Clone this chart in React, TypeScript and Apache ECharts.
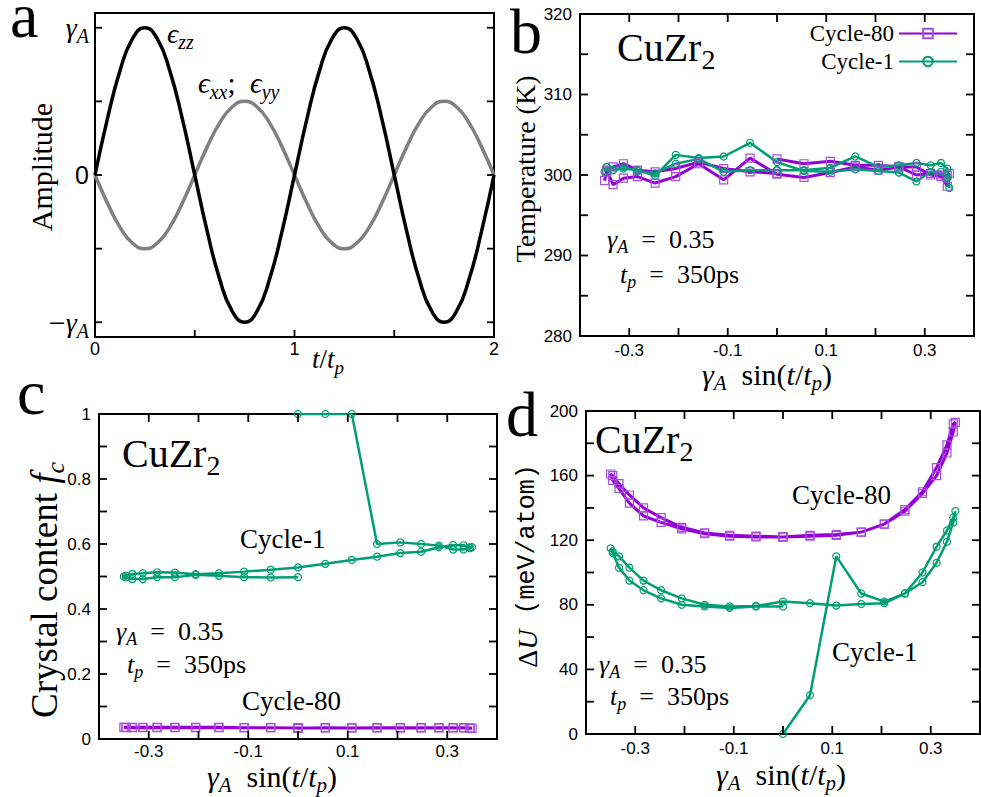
import React, { useEffect, useRef } from 'react';
import * as echarts from 'echarts';

// ---------- Panel a: strain waveforms (schematic) ----------
const tPhase = [0, 0.0625, 0.125, 0.1875, 0.25, 0.3125, 0.375, 0.4375, 0.5, 0.5625, 0.625, 0.6875, 0.75, 0.8125, 0.875, 0.9375, 1, 1.0625, 1.125, 1.1875, 1.25, 1.3125, 1.375, 1.4375, 1.5, 1.5625, 1.625, 1.6875, 1.75, 1.8125, 1.875, 1.9375, 2];
const epsZZ = [0, 0.383, 0.707, 0.924, 1, 0.924, 0.707, 0.383, 0, -0.383, -0.707, -0.924, -1, -0.924, -0.707, -0.383, 0, 0.383, 0.707, 0.924, 1, 0.924, 0.707, 0.383, 0, -0.383, -0.707, -0.924, -1, -0.924, -0.707, -0.383, 0];
const epsXX = [0, -0.191, -0.354, -0.462, -0.5, -0.462, -0.354, -0.191, 0, 0.191, 0.354, 0.462, 0.5, 0.462, 0.354, 0.191, 0, -0.191, -0.354, -0.462, -0.5, -0.462, -0.354, -0.191, 0, 0.191, 0.354, 0.462, 0.5, 0.462, 0.354, 0.191, 0];

// ---------- Shared strain sequence (x) for panels b, c, d ----------
const strain = [0, 0.0548, 0.1082, 0.1589, 0.2057, 0.2475, 0.2832, 0.3119, 0.3329, 0.3457, 0.35, 0.3457, 0.3329, 0.3119, 0.2832, 0.2475, 0.2057, 0.1589, 0.1082, 0.0548, 0, -0.0548, -0.1082, -0.1589, -0.2057, -0.2475, -0.2832, -0.3119, -0.3329, -0.3457, -0.35, -0.3457, -0.3329, -0.3119, -0.2832, -0.2475, -0.2057, -0.1589, -0.1082, -0.0548, 0];

// Panel b: temperature (K)
const temp80 = [302.0, 301.4, 301.7, 301.2, 301.2, 301.0, 301.0, 300.0, 299.8, 300.0, 300.2, 298.6, 300.0, 300.2, 300.0, 301.0, 300.6, 301.0, 300.3, 299.7, 300.1, 302.1, 299.4, 301.4, 299.8, 299.0, 299.8, 299.6, 298.8, 300.6, 299.3, 300.4, 301.0, 301.4, 300.6, 300.4, 300.8, 301.6, 300.8, 300.4, 300.2];
const temp1 = [300.6, 300.6, 300.9, 302.3, 301.0, 301.2, 301.5, 301.2, 301.5, 300.8, 298.4, 299.6, 300.4, 300.4, 299.2, 300.3, 300.5, 300.7, 300.4, 300.5, 301.6, 304.0, 302.3, 302.1, 302.5, 299.9, 300.6, 300.8, 300.6, 301.0, 300.4, 301.0, 300.6, 301.0, 300.5, 300.2, 301.4, 302.0, 300.4, 300.6, 300.6];

// Panel c: crystal content fc
const fc1 = [1.0, 1.0, 1.0, 0.600, 0.605, 0.600, 0.595, 0.583, 0.583, 0.587, 0.590, 0.590, 0.596, 0.597, 0.590, 0.576, 0.572, 0.561, 0.551, 0.539, 0.528, 0.521, 0.515, 0.510, 0.507, 0.512, 0.513, 0.510, 0.508, 0.503, 0.500, 0.497, 0.492, 0.492, 0.498, 0.498, 0.505, 0.502, 0.498, 0.497, 0.498];
const fc80 = [0.033, 0.035, 0.034, 0.034, 0.034, 0.034, 0.034, 0.034, 0.034, 0.033, 0.033, 0.034, 0.035, 0.035, 0.035, 0.035, 0.035, 0.035, 0.034, 0.034, 0.034, 0.035, 0.035, 0.036, 0.036, 0.036, 0.036, 0.036, 0.036, 0.036, 0.036, 0.035, 0.035, 0.035, 0.035, 0.035, 0.035, 0.035, 0.035, 0.035, 0.034];

// Panel d: ΔU (meV/atom)
const dU1 = [0, 24, 110, 87, 82, 87, 100, 116, 126, 134, 138, 131, 119, 106, 94, 87, 81, 80.5, 79.5, 81, 82, 79.3, 79, 80, 84, 89, 95, 103, 110, 113, 115, 112, 103, 95, 89, 84, 80, 79, 78, 79, 79];
const dU80 = [122, 123, 123.5, 125, 130, 138, 149, 160, 174, 187, 193, 192, 179, 165, 150, 139, 130, 125, 123, 122.5, 122, 122, 122.5, 124, 127, 131, 135, 143, 152, 157, 161, 160, 155, 148, 140, 134, 128, 124.5, 123, 122.5, 122];

// ---------- Axis ranges, tick positions / labels ----------
const aXRange = [0, 2];
const aYRange = [-1.1, 1.1];
const strainRange = [-0.4, 0.4];
const tempRange = [280, 320];
const fcRange = [0, 1];
const dURange = [0, 200];
const aXTicks = [0, 0.5, 1, 1.5, 2];
const aXLabels = [0, 1, 2];
const aYTicks = [-1, -0.5, 0, 0.5, 1];
const aYLabels = [-1, 0, 1];
const strainTicks = [-0.4, -0.3, -0.2, -0.1, 0, 0.1, 0.2, 0.3, 0.4];
const strainLabels = [-0.3, -0.1, 0.1, 0.3];
const tempTicks = [280, 285, 290, 295, 300, 305, 310, 315, 320];
const tempLabels = [280, 290, 300, 310, 320];
const fcTicks = [0, 0.1, 0.2, 0.3, 0.4, 0.5, 0.6, 0.7, 0.8, 0.9, 1];
const fcLabels = [0, 0.2, 0.4, 0.6, 0.8, 1];
const dUTicks = [0, 20, 40, 60, 80, 100, 120, 140, 160, 180, 200];
const dULabels = [0, 40, 80, 120, 160, 200];

const SERIF = '"Liberation Serif", serif';
const SANS = '"Liberation Sans", Arial, sans-serif';
const MONO = '"Liberation Mono", monospace';
const PURPLE = '#9400d3';
const GREEN = '#009e73';

function mr(F: number) {
  const lh = Math.round(F * 1.05);
  const sF = Math.round(F * 0.7);
  const p = Math.round(F * 0.6);
  const sLH = lh - p;
  return {
    r: { fontFamily: SERIF, fontSize: F, lineHeight: lh, fill: '#000' },
    i: { fontFamily: SERIF, fontSize: F, fontStyle: 'italic', lineHeight: lh, fill: '#000' },
    s: { fontFamily: SERIF, fontSize: sF, fontStyle: 'italic', lineHeight: sLH, padding: [p, 0, 0, 0], fill: '#000' },
    u: { fontFamily: SERIF, fontSize: sF, lineHeight: sLH, padding: [p, 0, 0, 0], fill: '#000' },
    m: { fontFamily: MONO, fontSize: Math.round(F * 0.9), lineHeight: lh, fill: '#000' },
  };
}

function txt(text: string, F: number, x: number, y: number, opts: any = {}) {
  return {
    type: 'text',
    x,
    y,
    rotation: opts.rotation || 0,
    style: {
      text,
      rich: mr(F),
      fontFamily: SERIF,
      fontSize: F,
      fill: '#000',
      align: opts.align || 'left',
      verticalAlign: 'middle',
    },
  };
}

function letter(t: string, x: number, y: number) {
  return {
    type: 'text', x, y,
    style: { text: t, fontFamily: SERIF, fontSize: 64, lineHeight: 30, fill: '#000', align: 'left', verticalAlign: 'middle' },
  };
}

function axisCfg(gridIndex: number, position: string, range: number[], labels: number[], fmt: any, fontSize: number, margin: number, rich?: any) {
  return {
    type: 'value', gridIndex, min: range[0], max: range[1], position,
    axisLine: { show: false, onZero: false },
    splitLine: { show: false },
    axisTick: { show: false },
    axisLabel: { show: true, customValues: labels, formatter: fmt, fontFamily: SANS, fontSize, color: '#000', margin, rich },
  };
}

const fmt1 = (v: number) => v.toFixed(1);
const fmtNum = (v: number) => String(Number(v.toFixed(1)));
const fmtInt = (v: number) => String(Math.round(v));

function pair(xs: number[], ys: number[]) {
  return xs.map((x, i) => [x, ys[i]]);
}

function purpleSeries(name: string, xi: number, yi: number, ys: number[]) {
  return {
    name, type: 'line', xAxisIndex: xi, yAxisIndex: yi,
    data: pair(strain, ys),
    symbol: 'rect', symbolSize: 8, showSymbol: true,
    lineStyle: { color: PURPLE, width: 3 },
    itemStyle: { color: 'rgba(0,0,0,0)', borderColor: '#a64ce0', borderWidth: 1.2 },
    emphasis: { disabled: true },
  };
}
function greenSeries(name: string, xi: number, yi: number, ys: number[]) {
  return {
    name, type: 'line', xAxisIndex: xi, yAxisIndex: yi,
    data: pair(strain, ys),
    symbol: 'circle', symbolSize: 7, showSymbol: true,
    lineStyle: { color: GREEN, width: 2.5 },
    itemStyle: { color: 'rgba(0,0,0,0)', borderColor: GREEN, borderWidth: 1.2 },
    emphasis: { disabled: true },
  };
}

// Tick frame specs: which axes, which sides get inward ticks
const tickSpecs = [
  { xi: 0, yi: 0, xr: aXRange, yr: aYRange, xt: aXTicks, yt: aYTicks, top: false, len: 7 },
  { xi: 1, yi: 1, xr: strainRange, yr: tempRange, xt: strainTicks, yt: tempTicks, top: true, len: 8 },
  { xi: 2, yi: 2, xr: strainRange, yr: fcRange, xt: strainTicks, yt: fcTicks, top: true, len: 8 },
  { xi: 3, yi: 3, xr: strainRange, yr: dURange, xt: strainTicks, yt: dUTicks, top: true, len: 8 },
];

const XTITLE = '{i|γ}{s|A}{r|  sin(}{i|t}{r|/}{i|t}{s|p}{r|)}';

export default function App() {
  const ref = useRef<HTMLDivElement>(null);
  useEffect(() => {
    if (!ref.current) return;
    const chart = echarts.init(ref.current, undefined, { renderer: 'svg' });
    const gridBase = { show: true, borderColor: '#000', borderWidth: 2, backgroundColor: 'transparent', containLabel: false };
    const aRich = {
      i: { fontFamily: SERIF, fontSize: 28, fontStyle: 'italic', lineHeight: 29, color: '#000' },
      s: { fontFamily: SERIF, fontSize: 20, fontStyle: 'italic', lineHeight: 12, padding: [17, 0, 0, 0], color: '#000' },
      n: { fontFamily: SANS, fontSize: 25, lineHeight: 29, color: '#000' },
      mi: { fontFamily: SERIF, fontSize: 30, lineHeight: 29, color: '#000' },
    };
    const aYFmt = (v: number) => (v > 0.5 ? '{i|γ}{s|A}' : v < -0.5 ? '{mi|−}{i|γ}{s|A}' : '{n|0}');

    const texts: any[] = [
      letter('a', 10, 15),
      letter('b', 510, 31),
      letter('c', 17, 392),
      letter('d', 506, 414),
      txt('{i|ϵ}{s|zz}', 28, 167, 33),
      txt('{i|ϵ}{s|xx}{r|;  }{i|ϵ}{s|yy}', 29, 198, 83),
      txt('{i|t}{r|/}{i|t}{s|p}', 27, 312, 359),
      txt('{r|Amplitude}', 30, 41, 167, { rotation: Math.PI / 2, align: 'center' }),
      txt('{r|CuZr}{u|2}', 40, 617, 47),
      txt('{i|γ}{s|A}{r|  =  0.35}', 26, 607, 239),
      txt('{i|t}{s|p}{r|  =  350ps}', 26, 620, 274),
      txt('{r|Temperature (K)}', 28, 525, 169, { rotation: Math.PI / 2, align: 'center' }),
      txt(XTITLE, 30, 767, 374, { align: 'center' }),
      txt('{r|CuZr}{u|2}', 40, 122, 453),
      txt('{r|Cycle-1}', 27, 240, 539),
      txt('{r|Cycle-80}', 27, 242, 701),
      txt('{i|γ}{s|A}{r|  =  0.35}', 26, 116, 631),
      txt('{i|t}{s|p}{r|  =  350ps}', 26, 127, 664),
      txt('{r|Crystal content }{i|f}{s|c}', 37, 44, 590, { rotation: Math.PI / 2, align: 'center' }),
      txt(XTITLE, 30, 272, 776, { align: 'center' }),
      txt('{r|CuZr}{u|2}', 40, 595, 439),
      txt('{r|Cycle-80}', 27, 792, 495),
      txt('{r|Cycle-1}', 27, 832, 652),
      txt('{i|γ}{s|A}{r|  =  0.35}', 26, 599, 664),
      txt('{i|t}{s|p}{r|  =  350ps}', 26, 610, 696),
      txt('{r|Δ}{i|U}{m| (meV/atom)}', 28, 527, 566, { rotation: Math.PI / 2, align: 'center' }),
      txt(XTITLE, 30, 781, 774, { align: 'center' }),
    ];

    const option: any = {
      animation: false,
      backgroundColor: '#fff',
      grid: [
        { ...gridBase, left: 95, top: 13, width: 399, height: 324 },
        { ...gridBase, left: 580, top: 14, width: 394, height: 322 },
        { ...gridBase, left: 99, top: 414, width: 398, height: 325 },
        { ...gridBase, left: 586, top: 411, width: 394, height: 323 },
      ],
      xAxis: [
        axisCfg(0, 'bottom', aXRange, aXLabels, fmtInt, 18, 3),
        axisCfg(1, 'bottom', strainRange, strainLabels, fmt1, 17, 6),
        axisCfg(2, 'bottom', strainRange, strainLabels, fmt1, 17, 4),
        axisCfg(3, 'bottom', strainRange, strainLabels, fmt1, 17, 6),
      ],
      yAxis: [
        axisCfg(0, 'left', aYRange, aYLabels, aYFmt, 25, 6, aRich),
        axisCfg(1, 'left', tempRange, tempLabels, fmtInt, 17, 8),
        axisCfg(2, 'left', fcRange, fcLabels, fmtNum, 17, 8),
        axisCfg(3, 'left', dURange, dULabels, fmtInt, 17, 8),
      ],
      legend: {
        data: ['Cycle-80', 'Cycle-1'],
        orient: 'vertical',
        right: 18,
        top: 17,
        align: 'right',
        itemWidth: 58,
        itemHeight: 12,
        itemGap: 5,
        selectedMode: false,
        textStyle: { fontFamily: SERIF, fontSize: 23, color: '#000' },
      },
      series: [
        {
          name: 'exx', type: 'line', xAxisIndex: 0, yAxisIndex: 0,
          data: pair(tPhase, epsXX), smooth: true, showSymbol: false, symbol: 'none',
          lineStyle: { color: '#808080', width: 3.5 },
        },
        {
          name: 'ezz', type: 'line', xAxisIndex: 0, yAxisIndex: 0,
          data: pair(tPhase, epsZZ), smooth: true, showSymbol: false, symbol: 'none',
          lineStyle: { color: '#000', width: 3.5 },
        },
        purpleSeries('Cycle-80', 1, 1, temp80),
        greenSeries('Cycle-1', 1, 1, temp1),
        greenSeries('Cycle-1', 2, 2, fc1),
        purpleSeries('Cycle-80', 2, 2, fc80),
        purpleSeries('Cycle-80', 3, 3, dU80),
        greenSeries('Cycle-1', 3, 3, dU1),
      ],
      graphic: { elements: texts },
    };
    chart.setOption(option);

    // Inward tick marks on the frame, placed through the axes' own scales
    const tickEls: any[] = [];
    const line = (x1: number, y1: number, x2: number, y2: number) => ({
      type: 'line', silent: true, z: 50,
      shape: { x1, y1, x2, y2 },
      style: { stroke: '#000', lineWidth: 1.8 },
    });
    tickSpecs.forEach((s) => {
      const xL = chart.convertToPixel({ xAxisIndex: s.xi } as any, s.xr[0]) as number;
      const xR = chart.convertToPixel({ xAxisIndex: s.xi } as any, s.xr[1]) as number;
      const yB = chart.convertToPixel({ yAxisIndex: s.yi } as any, s.yr[0]) as number;
      const yT = chart.convertToPixel({ yAxisIndex: s.yi } as any, s.yr[1]) as number;
      s.xt.forEach((v) => {
        if (Math.abs(v - s.xr[0]) < 1e-9 || Math.abs(v - s.xr[1]) < 1e-9) return;
        const px = chart.convertToPixel({ xAxisIndex: s.xi } as any, v) as number;
        tickEls.push(line(px, yB, px, yB - s.len));
        if (s.top) tickEls.push(line(px, yT, px, yT + s.len));
      });
      s.yt.forEach((v) => {
        if (Math.abs(v - s.yr[0]) < 1e-9 || Math.abs(v - s.yr[1]) < 1e-9) return;
        const py = chart.convertToPixel({ yAxisIndex: s.yi } as any, v) as number;
        tickEls.push(line(xL, py, xL + s.len, py));
        tickEls.push(line(xR, py, xR - s.len, py));
      });
    });
    chart.setOption({ graphic: { elements: [...texts, ...tickEls] } });

    return () => chart.dispose();
  }, []);
  return <div ref={ref} style={{ position: 'absolute', left: 0, top: 0, width: 981, height: 797 }} />;
}
